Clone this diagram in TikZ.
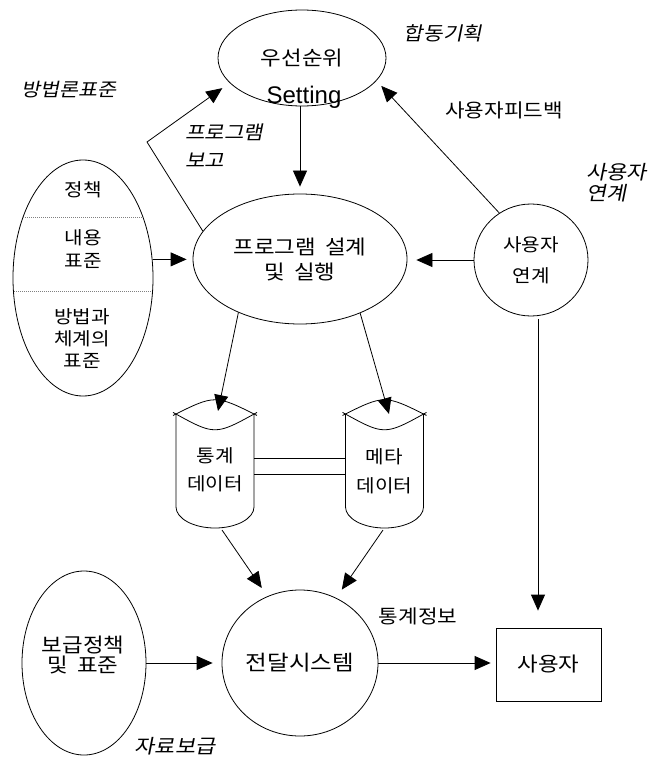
\documentclass[tikz,border=0pt]{standalone}
\usepackage{fontspec}
\setmainfont{Noto Sans CJK KR}[FakeStretch=1.12]
\newfontfamily\krit{Noto Sans CJK KR}[FakeSlant=0.2,FakeStretch=1.12]
\newfontfamily\latf{Liberation Sans}
\usetikzlibrary{shapes.geometric,arrows.meta,calc}
\newcommand\fsz[2]{\fontsize{#1}{#2}\selectfont}
\newcommand\wsp{\hspace{0.45em}}
\tikzset{
  shp/.style={draw, line width=0.8pt, inner sep=0pt, align=center},
  ell/.style={shp, ellipse},
  arr/.style={draw, line width=0.8pt, -{Triangle[length=16pt,width=14pt]}},
  lbl/.style={inner sep=0pt, align=center},
  dotln/.style={line width=0.6pt, gray, dash pattern=on 1pt off 1pt},
  cylpic/.pic={
    \draw[line width=0.8pt] (-42,-51.06) .. controls (0,-71.94) .. (42,-51.06);
    \draw[line width=0.8pt] (-42,-54.1) .. controls (0,-30.9) .. (42,-54.1);
    \draw[line width=0.8pt] (-39,-52.5) -- (-39,40.5) .. controls (-39,52) and (-21.5,61.5) .. (0,61.5) .. controls (21.5,61.5) and (39,52) .. (39,40.5) -- (39,-52.5);
  }
}
\begin{document}
\begin{tikzpicture}[x=1pt,y=-1pt]
\useasboundingbox (0,0) rectangle (652,762);

% shapes
\node[ell, minimum width=168pt, minimum height=96pt, font=\fsz{20}{24}] (top) at (302,58) {우선순위};
\node[lbl, font=\latf\fsz{24}{28}] (setting) at (304,97) {Setting};

\node[ell, minimum width=214pt, minimum height=130pt, font=\fsz{20}{25}] (prog) at (300,259) {프로그램\wsp 설계\\및\wsp 실행};

\node[ell, minimum width=140pt, minimum height=236pt] (std) at (83,278) {};
\node[lbl, font=\fsz{18}{22}] (std1) at (83,190) {정책};
\node[lbl, font=\fsz{18}{23}] (std2) at (83,249.5) {내용\\표준};
\node[lbl, font=\fsz{18}{22}] (std3) at (82,338.5) {방법과\\체계의\\표준};
\draw[dotln] ($(std.center)+(-60,-61)$) -- ($(std.center)+(60,-61)$);
\draw[dotln] ($(std.center)+(-69,13)$) -- ($(std.center)+(69,13)$);

\node[ell, minimum width=114pt, minimum height=112pt, font=\fsz{18}{31}] (link) at (531,260) {사용자\\연계};

\node[lbl, minimum width=78pt, minimum height=123pt, font=\fsz{18}{28}] (stat) at (215,470) {통계\\데이터};
\path ([yshift=3.5pt]stat.center) pic {cylpic};
\node[lbl, minimum width=79pt, minimum height=123pt, font=\fsz{18}{29}] (meta) at (384.5,471.5) {메타\\데이터};
\path ([yshift=5pt]meta.center) pic {cylpic};
\draw[line width=0.8pt] ($(stat.east)+(0,-12)$) -- ($(stat.east -| meta.west)+(0,-12)$);
\draw[line width=0.8pt] ($(stat.east)+(0,4)$) -- ($(stat.east -| meta.west)+(0,4)$);

\node[ell, minimum width=124pt, minimum height=184pt] (diss) at (84,663) {};
\node[lbl, font=\fsz{20}{20}] (dissT) at (83,655) {보급정책\\및\wsp 표준};

\node[ell, minimum width=156pt, minimum height=146pt, font=\fsz{21}{24}] (deliv) at (300,663) {전달시스템};

\node[shp, minimum width=105pt, minimum height=73pt, font=\fsz{20}{24}] (user) at (548.5,664.5) {사용자};

% labels
\node[lbl, font=\krit\fsz{18.5}{22}] (l1) at (69,90) {방법론표준};
\node[lbl, font=\krit\fsz{19}{22}] (l2) at (443,33) {합동기획};
\node[lbl, font=\fsz{19}{22}] (l3) at (504,110) {사용자피드백};
\node[lbl, anchor=west, align=left, font=\krit\fsz{19.5}{21}] (l4) at (586,182.5) {사용자\\연계};
\node[lbl, anchor=west, align=left, font=\krit\fsz{19}{28}] (l5) at (185,146) {프로그램\\보고};
\node[lbl, font=\fsz{19}{22}] (l6) at (418,616) {통계정보};
\node[lbl, font=\krit\fsz{19.5}{22}] (l7) at (175,746) {자료보급};

% coordinates
\coordinate (rb) at (147,142);
\coordinate (statIn) at (218,411);
\coordinate (metaIn) at (389,414);
\coordinate (statOut) at (222,530);
\coordinate (metaOut) at (383,530);
\coordinate (vl) at (538,0);

% connectors
\draw[arr, shorten >=7pt] (prog.north |- top.south) -- (prog.north);
\draw[arr, shorten >=9pt] (prog.164) -- (rb) -- (top.199);
\draw[arr, shorten >=7pt] (link.124) -- (top.343);
\draw[arr, shorten >=6pt] (std.15) -- (std.15 -| prog.west);
\draw[arr, shorten >=9pt] (link.west) -- (link.west -| prog.east);
\draw[arr] (prog.221) -- (statIn);
\draw[arr] (prog.318) -- (metaIn);
\draw[arr, shorten >=10pt] (statOut) -- (deliv.116);
\draw[arr, shorten >=10pt] (metaOut) -- (deliv.61);
\draw[arr, shorten >=9pt] (diss.east) -- (diss.east -| deliv.west);
\draw[arr, shorten >=5pt] (deliv.east) -- (deliv.east -| user.west);
\draw[arr, shorten <=3pt, shorten >=17pt] (link.south -| vl) -- (user.north -| vl);
\end{tikzpicture}
\end{document}
